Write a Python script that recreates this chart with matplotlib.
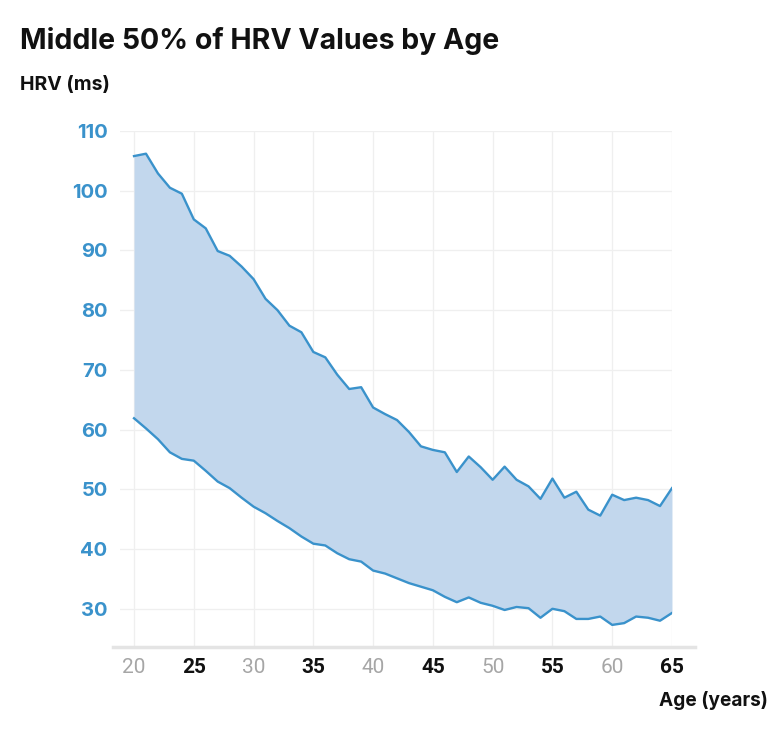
import matplotlib
matplotlib.use("Agg")
import matplotlib.pyplot as plt
from matplotlib.lines import Line2D

# ages 20..65
ages = list(range(20, 66))

upper = [105.8, 106.2, 102.9, 100.5, 99.5, 95.2, 93.7, 89.9, 89.1, 87.3,
         85.2, 81.9, 80.0, 77.4, 76.3, 73.0, 72.1, 69.2, 66.8, 67.1,
         63.7, 62.6, 61.6, 59.6, 57.2, 56.6, 56.2, 52.9, 55.5, 53.7,
         51.6, 53.8, 51.6, 50.5, 48.4, 51.8, 48.6, 49.6, 46.6, 45.6,
         49.1, 48.2, 48.6, 48.2, 47.2, 50.2]

lower = [61.9, 60.2, 58.4, 56.2, 55.1, 54.8, 53.1, 51.3, 50.2, 48.6,
         47.1, 46.0, 44.7, 43.5, 42.1, 40.9, 40.6, 39.3, 38.3, 37.9,
         36.4, 35.9, 35.1, 34.3, 33.7, 33.1, 32.0, 31.1, 31.9, 31.0,
         30.5, 29.8, 30.3, 30.1, 28.5, 30.0, 29.6, 28.3, 28.3, 28.7,
         27.3, 27.6, 28.7, 28.5, 28.0, 29.3]

xticks = [20, 25, 30, 35, 40, 45, 50, 55, 60, 65]
yticks = [30, 40, 50, 60, 70, 80, 90, 100, 110]

line_color = "#3a92cb"
fill_color = "#c2d7ed"
font = "Inter"

fig = plt.figure(figsize=(7.82, 7.31), dpi=100)
ax = fig.add_axes([0.1535, 0.1149, 0.7058, 0.7059])

ax.fill_between(ages, lower, upper, color=fill_color, lw=0)
ax.plot(ages, upper, color=line_color, lw=1.7)
ax.plot(ages, lower, color=line_color, lw=1.7)

ax.set_xlim(18.83, 65)
ax.set_ylim(23.6, 110)
ax.set_xticks(xticks)
ax.set_yticks(yticks)
ax.grid(True, color="#efefef", lw=0.9)
ax.set_axisbelow(True)
for s in ax.spines.values():
    s.set_visible(False)
ax.tick_params(length=0)

ax.set_yticklabels([str(v) for v in yticks], fontfamily=font, fontweight="bold",
                   fontsize=14.5, color=line_color)
ax.tick_params(axis="y", pad=9)
ax.set_xticklabels([str(v) for v in xticks], fontfamily="Roboto", fontsize=15)
ax.tick_params(axis="x", pad=8)
for i, lab in enumerate(ax.get_xticklabels()):
    if i % 2 == 0:
        lab.set_color("#a6a6a6")
    else:
        lab.set_color("#111111")
        lab.set_fontweight("bold")

# bottom axis line
fig.add_artist(Line2D([113 / 782, 695 / 782], [1 - 647 / 731, 1 - 647 / 731],
                      color="#e4e4e4", lw=2.5))

fig.text(20 / 782, 1 - 41 / 731, "Middle 50% of HRV Values by Age", fontfamily=font,
         fontweight="bold", fontsize=20.5, color="#111111", va="center", ha="left")
fig.text(20 / 782, 1 - 85 / 731, "HRV (ms)", fontfamily=font, fontweight="bold",
         fontsize=14, color="#111111", va="center", ha="left")
fig.text(768 / 782, 1 - 700 / 731, "Age (years)", fontfamily=font, fontweight="bold",
         fontsize=13.7, color="#111111", va="center", ha="right")

fig.savefig("out.png", dpi=100)
